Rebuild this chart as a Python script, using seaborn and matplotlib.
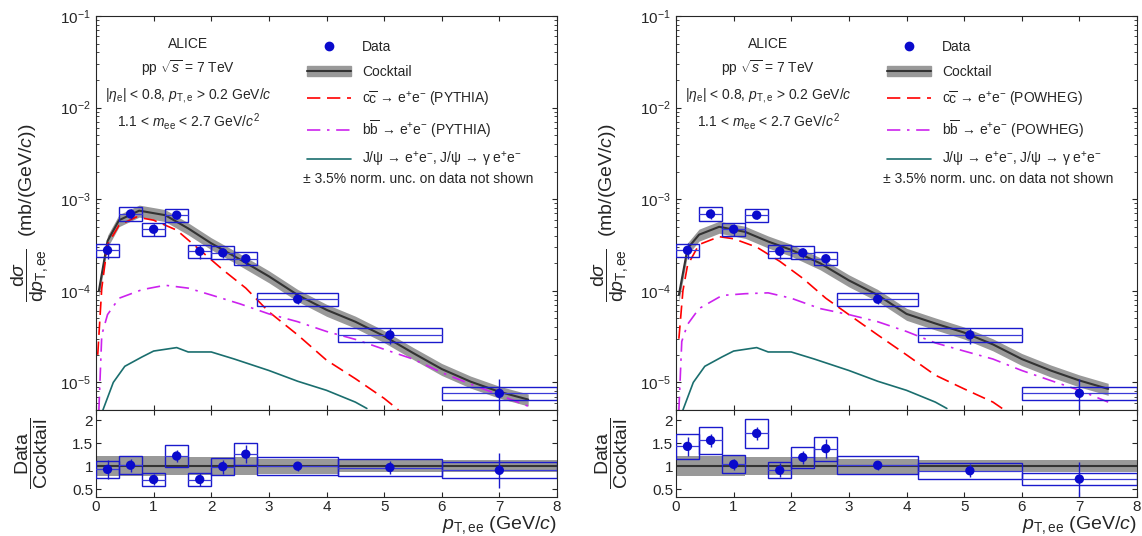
import numpy as np
import seaborn as sns
import matplotlib.pyplot as plt
from matplotlib.patches import Rectangle, Patch
from matplotlib.lines import Line2D

# data points (same bins both panels)
pt = [0.2, 0.6, 1.0, 1.4, 1.8, 2.2, 2.6, 3.5, 5.1, 7.0]
pt_lo = [0.0, 0.4, 0.8, 1.2, 1.6, 2.0, 2.4, 2.8, 4.2, 6.0]
pt_hi = [0.4, 0.8, 1.2, 1.6, 2.0, 2.4, 2.8, 4.2, 6.0, 8.0]
data = [2.77e-4, 6.9e-4, 4.7e-4, 6.7e-4, 2.7e-4, 2.6e-4, 2.24e-4, 8.1e-5, 3.3e-5, 7.6e-6]
stat_rel = [0.2, 0.12, 0.15, 0.1, 0.18, 0.13, 0.14, 0.12, 0.2, 0.45]
sys_rel = 0.18

ratio_pythia = [0.93, 1.02, 0.71, 1.22, 0.71, 0.99, 1.26, 1.0, 0.97, 0.91]
ratio_powheg = [1.43, 1.56, 1.04, 1.71, 0.91, 1.19, 1.38, 1.02, 0.9, 0.72]
ratio_stat = [0.2, 0.14, 0.12, 0.14, 0.15, 0.15, 0.2, 0.1, 0.14, 0.38]
ratio_sys_rel = 0.19

# cocktail ratio band
band_x = [0.0, 1.2, 2.8, 4.2, 8.0]
band_hw = [0.22, 0.2, 0.16, 0.13, 0.13]

# cocktail sum
ck_x = [0.05, 0.2, 0.4, 0.75, 1.2, 1.6, 2.0, 2.5, 3.0, 3.5, 4.0, 4.5, 5.0, 5.5, 6.0, 6.5, 7.0, 7.5]
ck_pythia = [1.0e-4, 3.5e-4, 5.9e-4, 7.5e-4, 6.7e-4, 4.8e-4, 3.3e-4, 2.2e-4, 1.44e-4, 9e-5,
             6.2e-5, 4.6e-5, 3.2e-5, 2.1e-5, 1.4e-5, 1.02e-5, 7.9e-6, 6.5e-6]
ck_powheg = [0.9e-4, 2.9e-4, 4.1e-4, 5.0e-4, 4.4e-4, 3.45e-4, 2.8e-4, 2.0e-4, 1.3e-4, 9e-5,
             5.6e-5, 4.4e-5, 3.5e-5, 2.6e-5, 1.8e-5, 1.35e-5, 1.05e-5, 8.5e-6]
ck_band = 0.15

# charm
cc_x_py = [0.03, 0.1, 0.2, 0.4, 0.7, 1.0, 1.4, 1.8, 2.2, 2.6, 3.0, 3.5, 4.0, 4.5, 5.0, 5.25]
cc_py = [2e-5, 1.07e-4, 3.2e-4, 5.2e-4, 6.4e-4, 5.9e-4, 4.6e-4, 2.8e-4, 1.7e-4, 1.07e-4,
         5.9e-5, 3.3e-5, 1.75e-5, 1.1e-5, 6.7e-6, 5e-6]
cc_x_pw = [0.05, 0.12, 0.2, 0.4, 0.75, 1.0, 1.4, 1.8, 2.2, 2.6, 3.0, 3.5, 4.0, 4.5, 5.0, 5.5, 5.7]
cc_pw = [3e-5, 1.0e-4, 1.9e-4, 3.2e-4, 3.9e-4, 3.7e-4, 3.0e-4, 2.1e-4, 1.37e-4, 8.3e-5,
         5.5e-5, 3.3e-5, 2.0e-5, 1.2e-5, 8.5e-6, 6.1e-6, 5e-6]

# beauty
bb_x = [0.05, 0.1, 0.2, 0.4, 0.8, 1.2, 1.6, 2.0, 2.5, 3.0, 3.5, 4.0, 4.5, 5.0, 5.5, 6.0, 6.5, 7.0, 7.5]
bb_py = [5e-6, 3.3e-5, 5.5e-5, 8.3e-5, 1.03e-4, 1.15e-4, 1.07e-4, 9e-5, 7.2e-5, 5.6e-5, 4.6e-5,
         3.6e-5, 2.95e-5, 2.3e-5, 1.8e-5, 1.28e-5, 9.6e-6, 7.3e-6, 5.5e-6]
bb_pw = [5e-6, 2.8e-5, 4.3e-5, 6.4e-5, 8.9e-5, 9.3e-5, 9.5e-5, 8.3e-5, 6.4e-5, 5.5e-5, 4.6e-5,
         3.6e-5, 2.7e-5, 2.2e-5, 1.8e-5, 1.35e-5, 1.05e-5, 8.2e-6, 6.1e-6]

# J/psi
jp_x = [0.12, 0.3, 0.5, 0.8, 1.0, 1.4, 1.6, 2.0, 2.4, 3.0, 3.5, 4.0, 4.5, 4.7]
jp = [5e-6, 1.0e-5, 1.5e-5, 1.9e-5, 2.2e-5, 2.4e-5, 2.15e-5, 2.15e-5, 1.8e-5, 1.35e-5,
      1.03e-5, 8.2e-6, 6.1e-6, 5.2e-6]

sns.set_style("ticks")
plt.rcParams['font.family'] = ['Liberation Sans', 'DejaVu Sans']
plt.rcParams['mathtext.fontset'] = 'custom'
plt.rcParams['mathtext.rm'] = 'Liberation Sans'
plt.rcParams['mathtext.it'] = 'Liberation Sans:italic'

fig = plt.figure(figsize=(11.42, 5.36), dpi=100)
W, H = 1142, 536


def boxes(ax, ys, rel, log):
    for x0, x1, y in zip(pt_lo, pt_hi, ys):
        if log:
            lo, hi = y / (1 + rel), y * (1 + rel)
        else:
            lo, hi = y * (1 - rel), y * (1 + rel)
        ax.add_patch(Rectangle((x0, lo), x1 - x0, hi - lo, fill=False, ec='#1a1acc', lw=1.0, zorder=3))
        ax.plot([x0, x1], [y, y], color='#3a3ad8', lw=0.9, zorder=3)


def panel(left, gen, ck, ccx, cc, bb, ratio):
    x0 = left / W
    w = 461 / W
    ax = fig.add_axes([x0, 1 - 410 / H, w, 394 / H])
    ar = fig.add_axes([x0, 1 - 497 / H, w, 87 / H])

    ck = np.array(ck)
    ax.fill_between(ck_x, ck * (1 - ck_band), ck * (1 + ck_band), color='#999999', lw=0, zorder=1)
    sns.lineplot(x=ck_x, y=ck, ax=ax, color='#333333', lw=1.5, zorder=2)
    sns.lineplot(x=ccx, y=cc, ax=ax, color='red', lw=1.2, zorder=2).lines[-1].set_dashes([8, 4])
    sns.lineplot(x=bb_x, y=bb, ax=ax, color='#cc22ee', lw=1.2, zorder=2).lines[-1].set_dashes([8, 4, 1.5, 4])
    sns.lineplot(x=jp_x, y=jp, ax=ax, color='#1a6e6e', lw=1.2, zorder=2)

    data_a = np.array(data)
    boxes(ax, data, sys_rel, True)
    ax.errorbar(pt, data, yerr=data_a * np.array(stat_rel), fmt='none', ecolor='#1a1acc', lw=1, zorder=4)
    sns.scatterplot(x=pt, y=data, ax=ax, color='#0a0acc', s=45, edgecolor='none', zorder=5)

    ax.set_yscale('log')
    ax.set_xlim(0, 8)
    ax.set_ylim(5e-6, 1e-1)
    ax.set_xticklabels([])
    ax.tick_params(which='both', direction='in', top=True, right=True, labelsize=11)
    ax.set_ylabel(r'$\dfrac{\mathrm{d}\sigma}{\mathrm{d}p_{\mathrm{T,ee}}}$  (mb/(GeV/$c$))', fontsize=14)

    ax.text(0.2, 0.92, 'ALICE', transform=ax.transAxes, ha='center', fontsize=10)
    ax.text(0.2, 0.855, r'pp $\sqrt{s}$ = 7 TeV', transform=ax.transAxes, ha='center', fontsize=10)
    ax.text(0.2, 0.79, r'|$\eta_{\mathrm{e}}$| < 0.8, $p_{\mathrm{T,e}}$ > 0.2 GeV/$c$',
            transform=ax.transAxes, ha='center', fontsize=10)
    ax.text(0.2, 0.72, r'1.1 < $m_{\mathrm{ee}}$ < 2.7 GeV/$c^2$', transform=ax.transAxes, ha='center', fontsize=10)

    handles = [
        Line2D([], [], marker='o', color='#0a0acc', ls='none', ms=6),
        (Patch(color='#999999'), Line2D([], [], color='#333333', lw=1.5)),
        Line2D([], [], color='red', lw=1.2, dashes=[8, 4]),
        Line2D([], [], color='#cc22ee', lw=1.2, dashes=[8, 4, 1.5, 4]),
        Line2D([], [], color='#1a6e6e', lw=1.2),
    ]
    labels = ['Data', 'Cocktail',
              r'c$\overline{\mathrm{c}}$ → e$^{+}$e$^{-}$ (%s)' % gen,
              r'b$\overline{\mathrm{b}}$ → e$^{+}$e$^{-}$ (%s)' % gen,
              r'J/ψ → e$^{+}$e$^{-}$, J/ψ → γ e$^{+}$e$^{-}$']
    ax.legend(handles, labels, loc='upper left', bbox_to_anchor=(0.43, 0.97), frameon=False,
              fontsize=10, handlelength=3.2, labelspacing=0.75)
    ax.text(0.45, 0.575, '± 3.5% norm. unc. on data not shown', transform=ax.transAxes, fontsize=10)

    # ratio
    bx = np.array(band_x)
    bh = np.array(band_hw)
    ar.fill_between(bx, 1 - bh, 1 + bh, color='#999999', lw=0, zorder=1, step='post')
    sns.lineplot(x=[0, 8], y=[1, 1], ax=ar, color='#333333', lw=1.5, zorder=2)
    boxes(ar, ratio, ratio_sys_rel, False)
    ar.errorbar(pt, ratio, yerr=ratio_stat, fmt='none', ecolor='#1a1acc', lw=1, zorder=4)
    sns.scatterplot(x=pt, y=ratio, ax=ar, color='#0a0acc', s=45, edgecolor='none', zorder=5)
    ar.set_xlim(0, 8)
    ar.set_ylim(0.33, 2.22)
    ar.set_yticks([0.5, 1, 1.5, 2])
    ar.set_yticklabels(['0.5', '1', '1.5', '2'])
    ar.set_xticks(range(9))
    ar.tick_params(which='both', direction='in', top=True, right=True, labelsize=11, pad=2)
    ar.set_ylabel(r'$\dfrac{\mathrm{Data}}{\mathrm{Cocktail}}$', fontsize=14)
    ar.set_xlabel(r'$p_{\mathrm{T,ee}}$ (GeV/$c$)', fontsize=14, loc='right', labelpad=0)
    ar.yaxis.set_label_coords(-0.1, 0.5)
    ax.yaxis.set_label_coords(-0.1, 0.5)


panel(96, 'PYTHIA', ck_pythia, cc_x_py, cc_py, bb_py, ratio_pythia)
panel(676, 'POWHEG', ck_powheg, cc_x_pw, cc_pw, bb_pw, ratio_powheg)

fig.savefig('out.png', dpi=100)
